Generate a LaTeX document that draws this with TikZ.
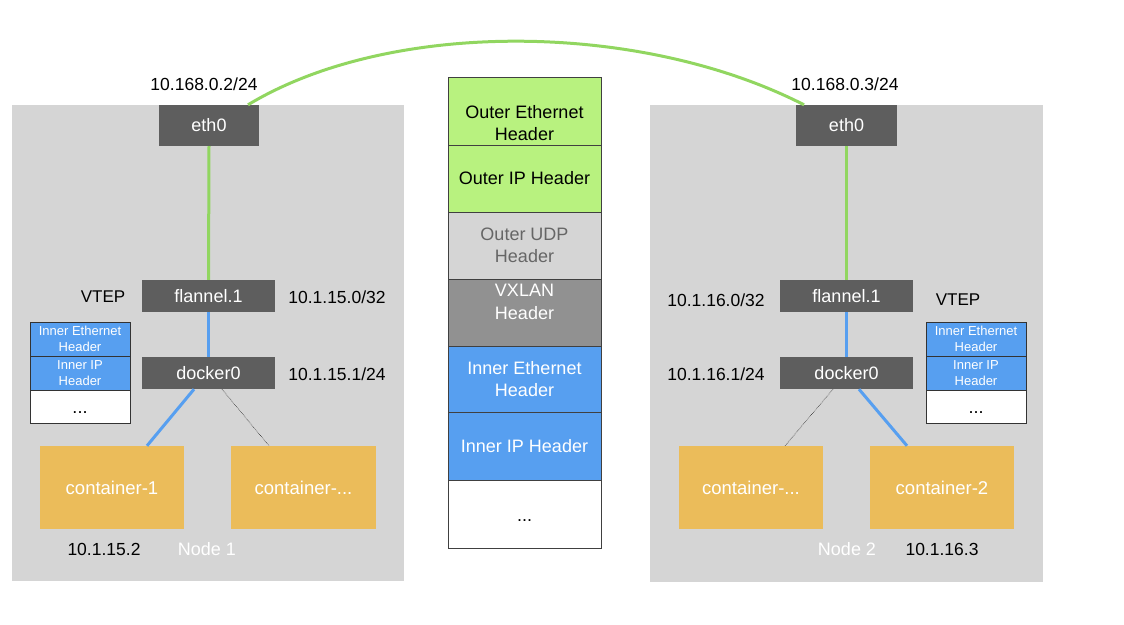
\documentclass[tikz,border=0pt]{standalone}
\usepackage{fontspec}
\setmainfont{Liberation Sans}
\definecolor{bggray}{HTML}{D5D5D5}
\definecolor{devgray}{HTML}{5E5E5E}
\definecolor{linegreen}{HTML}{91D660}
\definecolor{fillgreen}{HTML}{B8F27F}
\definecolor{hdrblue}{HTML}{579FF0}
\definecolor{contorange}{HTML}{EBBC5A}
\definecolor{udpgray}{HTML}{D5D5D5}
\definecolor{udptext}{HTML}{666666}
\definecolor{vxgray}{HTML}{919191}
\tikzset{
  hostbox/.style={fill=bggray, inner sep=0pt},
  dev/.style={fill=devgray, text=white, inner sep=0pt, font=\fontsize{18}{20}\selectfont},
  cont/.style={fill=contorange, text=white, inner sep=0pt, minimum width=144pt, minimum height=83pt, font=\fontsize{18.5}{20}\selectfont},
  lbl/.style={inner sep=0pt, font=\fontsize{17.5}{20}\selectfont},
  hdr/.style={draw=black!75, line width=0.6pt, inner sep=0pt, minimum width=153pt, align=center, font=\fontsize{18}{22.3}\selectfont},
  hdrtext/.style={align=center, inner sep=0pt, font=\fontsize{18}{22.3}\selectfont},
  small/.style={draw=black!80, line width=0.6pt, inner sep=0pt, minimum width=100pt, align=center, font=\fontsize{13}{15.7}\selectfont},
  dots/.style={inner sep=0pt, font=\fontsize{18}{20}\selectfont},
  gline/.style={linegreen, line width=3pt},
  bline/.style={hdrblue, line width=3pt},
  dline/.style={black, line width=0.5pt, densely dotted},
}
\begin{document}
\begin{tikzpicture}[x=1pt, y=-1pt]
\useasboundingbox (0,0) rectangle (1124,624);
% host boxes
\node[hostbox, minimum width=392pt, minimum height=476pt] (host1) at (208,343) {};
\node[hostbox, minimum width=393pt, minimum height=477pt] (host2) at (846.5,343.5) {};
% devices node 1
\node[dev, minimum width=100pt, minimum height=41pt] (eth0L) at (209,125.5) {eth0};
\node[dev, minimum width=133pt, minimum height=32pt] (flanL) at (208.5,296) {flannel.1};
\node[dev, minimum width=133pt, minimum height=32pt] (dockL) at (208.5,373) {docker0};
\node[cont] (c1) at (112,487.5) {container-1};
\node[cont, minimum width=145pt] (cdL) at (303.5,487.5) {container-...};
% devices node 2
\node[dev, minimum width=101pt, minimum height=41pt] (eth0R) at (846.5,125.5) {eth0};
\node[dev, minimum width=133pt, minimum height=32pt] (flanR) at (846.5,296) {flannel.1};
\node[dev, minimum width=133pt, minimum height=32pt] (dockR) at (846.5,373) {docker0};
\node[cont] (cdR) at (751,487.5) {container-...};
\node[cont] (c2) at (942,487.5) {container-2};
% labels node 1
\node[lbl] (ipL) at (204,84) {10.168.0.2/24};
\node[lbl, font=\fontsize{17}{20}\selectfont] (vtepL) at (103,297) {VTEP};
\node[lbl] (fipL) at (337,297) {10.1.15.0/32};
\node[lbl] (dipL) at (337,374) {10.1.15.1/24};
\node[lbl] (c1ip) at (104,549) {10.1.15.2};
\node[lbl, text=white, font=\fontsize{18}{20}\selectfont] (n1) at (207,549) {Node 1};
% labels node 2
\node[lbl] (ipR) at (845,84) {10.168.0.3/24};
\node[lbl, font=\fontsize{17}{20}\selectfont] (vtepR) at (958,300) {VTEP};
\node[lbl] (fipR) at (716,300) {10.1.16.0/32};
\node[lbl] (dipR) at (716,374) {10.1.16.1/24};
\node[lbl] (c2ip) at (942,549) {10.1.16.3};
\node[lbl, text=white, font=\fontsize{18}{20}\selectfont] (n2) at (847,549) {Node 2};
% small stacks
\node[small, fill=hdrblue, text=white, minimum height=34pt] (sL1) at (80,339) {Inner Ethernet\\Header};
\node[small, fill=hdrblue, text=white, minimum height=34pt] (sL2) at (80,373) {Inner IP\\Header};
\node[small, fill=white, minimum height=33pt] (sL3) at (80,406.5) {};
\node[dots] (sL3t) at (80,413) {...};
\node[small, fill=hdrblue, text=white, minimum height=34pt] (sR1) at (976,339) {Inner Ethernet\\Header};
\node[small, fill=hdrblue, text=white, minimum height=34pt] (sR2) at (976,373) {Inner IP\\Header};
\node[small, fill=white, minimum height=33pt] (sR3) at (976,406.5) {};
\node[dots] (sR3t) at (976,413) {...};
% central stack
\node[hdr, fill=fillgreen, minimum height=68pt] (h1) at (524.5,111) {};
\node[hdrtext] (h1t) at (524.5,123) {Outer Ethernet\\Header};
\node[hdr, fill=fillgreen, minimum height=67pt] (h2) at (524.5,178.5) {Outer IP Header};
\node[hdr, fill=udpgray, text=udptext, minimum height=67pt] (h3) at (524.5,245.5) {Outer UDP\\Header};
\node[hdr, fill=vxgray, minimum height=67pt] (h4) at (524.5,312.5) {};
\node[hdrtext, text=white] (h4t) at (524.5,302) {VXLAN\\Header};
\node[hdr, fill=hdrblue, text=white, minimum height=66pt] (h5) at (524.5,379) {Inner Ethernet\\Header};
\node[hdr, fill=hdrblue, text=white, minimum height=68pt] (h6) at (524.5,446) {Inner IP Header};
\node[hdr, fill=white, minimum height=68pt] (h7) at (524.5,514) {};
\node[dots] (h7t) at (524.5,521) {...};
% connectors
\draw[gline] ([xshift=39pt]eth0L.north) .. controls (390,19) and (640,21) .. ([xshift=-42.5pt]eth0R.north);
\draw[gline] (eth0L.south) -- (flanL.north);
\draw[gline] (eth0R.south) -- (flanR.north);
\draw[bline] (flanL.south) -- (dockL.north);
\draw[bline] (flanR.south) -- (dockR.north);
\draw[bline] ([xshift=-14.5pt]dockL.south) -- ([xshift=35pt]c1.north);
\draw[dline] ([xshift=13.5pt]dockL.south) -- ([xshift=-34.5pt]cdL.north);
\draw[dline] ([xshift=-13.5pt]dockR.south) -- ([xshift=34pt]cdR.north);
\draw[bline] ([xshift=12.5pt]dockR.south) -- ([xshift=-35pt]c2.north);
\end{tikzpicture}
\end{document}
